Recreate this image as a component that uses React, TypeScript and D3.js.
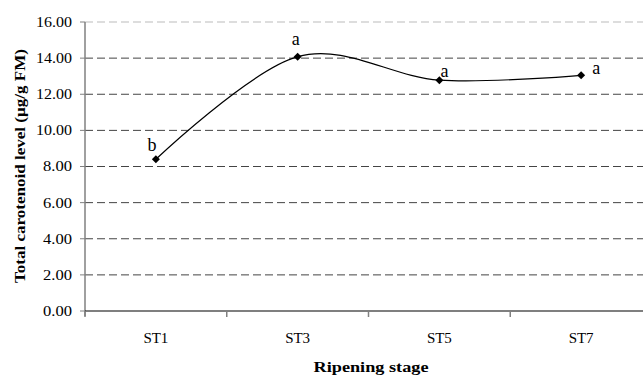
import React from "react";
import * as d3 from "d3";

const categories = ["ST1", "ST3", "ST5", "ST7"];
const values = [8.4, 14.08, 12.78, 13.05];
const letters = ["b", "a", "a", "a"];
const yTicks = [0, 2, 4, 6, 8, 10, 12, 14, 16];

export default function App() {
  const W = 643, H = 376;
  const left = 85, right = 652, top = 22, bottom = 311;
  const x = d3.scaleBand<string>().domain(categories).range([left, right]);
  const y = d3.scaleLinear().domain([0, 16]).range([bottom, top]);
  const pts: [number, number][] = categories.map((c, i) => [x(c)! + x.bandwidth() / 2, y(values[i])]);
  const line = d3.line().curve(d3.curveCardinal.tension(0))(pts) || "";
  const labelOffsets: [number, number, string][] = [
    [-4, -8, "middle"],
    [-2, -12, "middle"],
    [5, -3, "middle"],
    [11, -1, "start"],
  ];
  const font = "Liberation Serif, Times New Roman, serif";
  return (
    <svg width={W} height={H} style={{ position: "absolute", left: 0, top: 0, fontFamily: font }}>
      <rect width={W} height={H} fill="#fff" />
      {yTicks.filter((t) => t > 0).map((t) => (
        <line key={t} x1={left} x2={W} y1={y(t)} y2={y(t)} stroke={t === 16 ? "#bbb" : "#444"} strokeWidth={1} strokeDasharray="8,4" />
      ))}
      <line x1={left} x2={left} y1={top} y2={bottom + 5} stroke="#808080" strokeWidth={1.5} />
      {yTicks.map((t) => (
        <g key={t}>
          <line x1={left - 5} x2={left} y1={y(t)} y2={y(t)} stroke="#808080" strokeWidth={1} />
          <text x={72} y={y(t)} dy="0.35em" textAnchor="end" fontSize={14} textLength={t >= 10 ? 36 : 29} lengthAdjust="spacingAndGlyphs">{t.toFixed(2)}</text>
        </g>
      ))}
      <line x1={left} x2={W} y1={bottom} y2={bottom} stroke="#000" strokeWidth={1.2} />
      {categories.map((c, i) => (
        <g key={c}>
          <line x1={x(c)!} x2={x(c)!} y1={bottom} y2={bottom + 6} stroke="#808080" strokeWidth={1.5} />
          <text x={pts[i][0]} y={338} dy="0.35em" textAnchor="middle" fontSize={14} textLength={25} lengthAdjust="spacingAndGlyphs">{c}</text>
        </g>
      ))}
      <path d={line} fill="none" stroke="#000" strokeWidth={1.2} />
      {pts.map((p, i) => (
        <g key={i}>
          <path d={`M${p[0]},${p[1] - 4}L${p[0] + 4},${p[1]}L${p[0]},${p[1] + 4}L${p[0] - 4},${p[1]}Z`} fill="#000" />
          <text x={p[0] + labelOffsets[i][0]} y={p[1] + labelOffsets[i][1]} textAnchor={labelOffsets[i][2] as any} fontSize={18}>{letters[i]}</text>
        </g>
      ))}
      <text x={20} y={166} transform="rotate(-90,20,166)" dy="0.35em" textAnchor="middle" fontSize={14} fontWeight="bold" textLength={234} lengthAdjust="spacingAndGlyphs">Total carotenoid level (µg/g FM)</text>
      <text x={371} y={367} dy="0.35em" textAnchor="middle" fontSize={15} fontWeight="bold" textLength={115} lengthAdjust="spacingAndGlyphs">Ripening stage</text>
    </svg>
  );
}
